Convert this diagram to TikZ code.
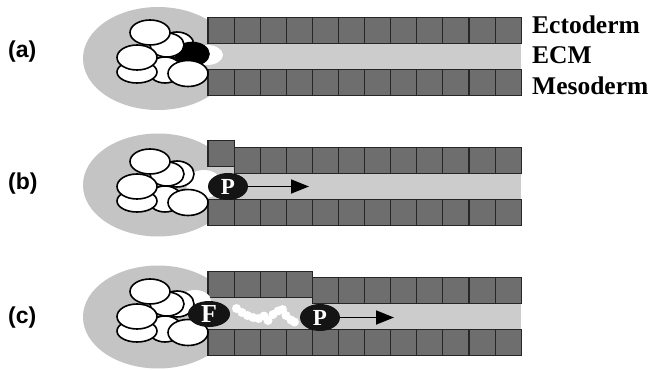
\documentclass[tikz,border=0pt]{standalone}
\usepackage{fontspec}
\setmainfont{Liberation Serif}
\newfontfamily\panelsans{Liberation Sans}
\usetikzlibrary{arrows.meta,shapes.geometric}

\definecolor{halo}{gray}{0.77}
\definecolor{matrixgray}{gray}{0.80}
\definecolor{tilegray}{gray}{0.43}

% one embryo cluster; #1 is inserted between the back cells and the front cells
\newcommand\drawcluster[1]{%
  \draw[cellline] (165,70) ellipse [x radius=17, y radius=13];
  \draw[cellline] (177,45) ellipse [x radius=17, y radius=13];
  #1%
  \draw[cellline] (167,45) ellipse [x radius=17, y radius=12];
  \draw[cellline] (137,72) ellipse [x radius=20, y radius=11];
  \draw[cellline] (137,57.5) ellipse [x radius=20, y radius=12.5];
  \draw[cellline] (150,32.5) ellipse [x radius=20, y radius=12.5];
  \draw[cellline] (188,73.5) ellipse [x radius=20, y radius=13];
}

% a row of twelve tiles starting at x=208, top edge #1; the first #2 tiles are raised by #3
\newcommand\tilerow[3]{%
  \foreach \k in {0,...,11}{%
    \pgfmathsetmacro\lift{\k<#2 ? #3 : 0}%
    \pgfmathsetmacro\xl{208+26.1*\k}%
    \pgfmathsetmacro\xr{208+26.1*(\k+1)}%
    \draw[tile] (\xl,{#1-\lift}) rectangle (\xr,{#1-\lift+26});
  }%
}

\begin{document}
\begin{tikzpicture}[x=1pt,y=-1pt,
  cellline/.style={draw=black, line width=1.6pt, fill=white},
  tile/.style={draw=black!85, line width=1.1pt, fill=tilegray},
  haloarea/.style={fill=halo},
  ecm/.style={fill=matrixgray},
  glow/.style={fill=white},
  marker/.style={ellipse, fill=black!92, inner sep=0pt, text=white,
    minimum width=40pt, minimum height=27pt, font=\bfseries\fontsize{23}{26}\selectfont},
  motion/.style={line width=1.8pt, -{Triangle[length=18pt,width=14pt]}},
  panel/.style={anchor=west, inner sep=0pt, font=\panelsans\bfseries\fontsize{23}{26}\selectfont},
  layer/.style={anchor=base west, inner sep=0pt, font=\bfseries\fontsize{25.5}{28}\selectfont}
]
\useasboundingbox (0,0) rectangle (649,370);

% ---------------- (a) ----------------
\fill[haloarea] (158,58.5) ellipse [x radius=75, y radius=51.5];
\fill[ecm] (208,43.5) rectangle (521.2,69.5);
\tilerow{17.5}{0}{0}
\tilerow{69.5}{0}{0}
\fill[glow] (207,55) ellipse [x radius=16, y radius=10];
\drawcluster{\draw[draw=black, line width=1.6pt, fill=black] (192,54) ellipse [x radius=17, y radius=11.5];}
\node[panel] (la) at (8,52) {(a)};
\node[layer] (ecto) at (532,33) {Ectoderm};
\node[layer] (ecmlabel) at (532,63) {ECM};
\node[layer] (meso) at (532,94) {Mesoderm};

% ---------------- (b) ----------------
\fill[haloarea] (158,185) ellipse [x radius=75, y radius=51.5];
\fill[ecm] (208,166.5) rectangle (234.1,173.5);
\fill[ecm] (208,173.5) rectangle (521.2,199.5);
\tilerow{147.5}{1}{7}
\tilerow{199.5}{0}{0}
\fill[glow] (204,184) ellipse [x radius=18, y radius=14];
\begin{scope}[shift={(0,129)}]
  \drawcluster{}
\end{scope}
\node[marker] (pb) at (228,186.5) {P};
\coordinate (pbend) at (309,186.5);
\draw[motion] (pb.east) -- (pbend);
\node[panel] (lb) at (8,184) {(b)};

% ---------------- (c) ----------------
\fill[haloarea] (158,317) ellipse [x radius=75, y radius=51.5];
\fill[ecm] (208,297.5) rectangle (312.4,303.5);
\fill[ecm] (208,303.5) rectangle (521.2,329.5);
\tilerow{277.5}{4}{6}
\tilerow{329.5}{0}{0}
\fill[glow] (195,301) ellipse [x radius=16, y radius=11];
\begin{scope}[shift={(0,259)}]
  \drawcluster{}
\end{scope}
% trail of matrix deposits behind the moving cell
\foreach \bx/\by in {236.5/308.5, 242/312.5, 247.5/315.5, 253/317.5, 258.5/318.5,
                     264/316, 268/320.5, 273/314.5, 278/311, 282.5/309.5,
                     286/315.5, 291/320, 294.5/322}{
  \fill[white] (\bx,\by) circle [radius=4.5];
}
\node[marker, minimum width=42pt, minimum height=26pt,
      font=\bfseries\fontsize{26}{28}\selectfont] (fc) at (209,314) {F};
\node[marker] (pc) at (320,317.5) {P};
\coordinate (pcend) at (394,317.5);
\draw[motion] (pc.east) -- (pcend);
\node[panel] (lc) at (8,318) {(c)};

\end{tikzpicture}
\end{document}
